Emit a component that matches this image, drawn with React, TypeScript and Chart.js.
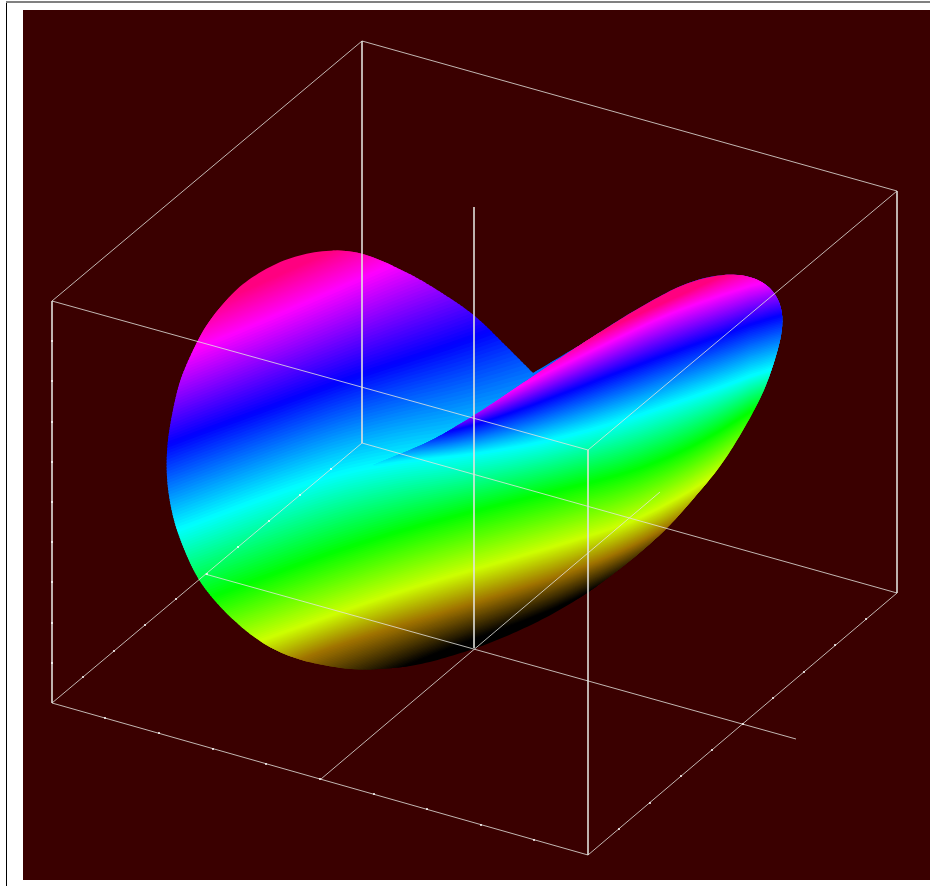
import React, { useEffect, useRef } from "react";
import { Chart, registerables } from "chart.js";

type P = [number, number];
type P3 = [number, number, number];

// Wire-frame of the plot box and its axes
const boxTop: P[] = [[52, 301], [588, 450], [897, 191], [362, 41], [52, 301]];
const boxBottom: P[] = [[52, 703], [588, 855], [897, 593], [362, 443], [52, 703]];
const boxPosts: P[][] = [
  [[52, 301], [52, 703]],
  [[588, 450], [588, 855]],
  [[897, 191], [897, 593]],
  [[362, 41], [362, 443]],
];
const axisLines: P[][] = [
  [[474, 207], [474, 648]],
  [[205, 574], [796, 739]],
  [[321, 779], [660, 492]],
];
const tickDots: P[] = [
  [83, 677], [114, 651], [145, 625], [176, 599], [207, 574], [238, 547], [269, 521], [300, 495], [331, 469],
  [105, 718], [159, 733], [213, 749], [266, 764], [320, 779], [374, 794], [427, 809], [481, 825], [534, 840],
  [619, 829], [650, 803], [681, 776], [712, 750], [743, 724], [773, 698], [804, 672], [835, 645], [866, 619],
  [52, 341], [52, 381], [52, 422], [52, 462], [52, 502], [52, 542], [52, 582], [52, 623], [52, 663],
];

// Surface silhouette
const surfaceOutline: P[] = [
  [533, 373], [473, 313], [417, 277], [363, 252], [327, 249], [283, 259], [240, 284], [205, 325], [179, 380],
  [167, 440], [166, 480], [174, 525], [197, 580], [227, 615], [263, 645], [300, 661], [357, 671], [417, 666],
  [475, 649], [510, 635], [550, 616], [588, 593], [633, 559], [668, 528], [687, 506], [719, 469], [743, 431],
  [766, 388], [781, 340], [785, 317], [778, 292], [762, 279], [740, 273], [713, 275], [680, 285], [630, 313], [580, 345],
];
// Front fold of the surface (right-hand lobe)
const foldOutline: P[] = [
  [373, 465], [380, 462], [430, 442], [467, 420], [480, 412], [535, 375], [580, 345], [630, 313], [680, 285],
  [713, 275], [740, 273], [762, 279], [778, 292], [785, 317], [781, 340], [766, 388], [743, 431], [719, 469], [687, 506],
];

// Lines of equal colour
const backPink: P[] = [[150, 332], [283, 273], [333, 250], [470, 190], [800, 60]];
const backMagenta: P[] = [[150, 367], [193, 350], [283, 313], [363, 277], [470, 232], [800, 100]];
const backBlue: P[] = [[150, 451], [170, 443], [283, 403], [363, 373], [450, 347], [560, 305], [800, 220]];
const cyanLine: P[] = [[150, 540], [187, 527], [283, 490], [373, 463], [480, 455], [590, 432], [763, 373], [800, 355]];
const greenLine: P[] = [[150, 620], [283, 570], [367, 540], [477, 510], [560, 490], [667, 463], [730, 425], [800, 380]];
const yellowLine: P[] = [[150, 680], [283, 633], [393, 593], [483, 567], [550, 548], [663, 513], [720, 470], [800, 420]];
const amberLine: P[] = [[150, 730], [283, 665], [350, 640], [393, 628], [477, 602], [550, 579], [600, 563], [663, 532], [720, 495], [800, 445]];
const blackLine: P[] = [[150, 780], [350, 690], [417, 660], [477, 637], [517, 625], [577, 600], [640, 565], [720, 520], [800, 470]];
const foldPink: P[] = [[150, 520], [547, 356], [663, 303], [713, 280], [800, 240]];
const foldMagenta: P[] = [[150, 560], [440, 425], [480, 406], [547, 373], [613, 340], [697, 300], [760, 285], [800, 270]];
const foldBlue: P[] = [[150, 430], [373, 440], [420, 440], [480, 425], [580, 387], [650, 360], [773, 317], [800, 305]];

const pink: P3 = [255, 0, 128];
const magenta: P3 = [255, 0, 255];
const blue: P3 = [0, 0, 255];
const cyan: P3 = [0, 255, 255];
const green: P3 = [0, 255, 0];
const yellow: P3 = [205, 255, 0];
const amber: P3 = [160, 115, 0];
const black: P3 = [0, 0, 0];

const backStops: [P[], P3][] = [
  [backPink, pink], [backMagenta, magenta], [backBlue, blue], [cyanLine, cyan],
  [greenLine, green], [yellowLine, yellow], [amberLine, amber], [blackLine, black],
];
const foldStops: [P[], P3][] = [
  [foldPink, pink], [foldMagenta, magenta], [foldBlue, blue], [cyanLine, cyan],
];

const bgColour = "#3a0000";
const wireColour = "rgba(228,228,222,0.8)";
const SUB = 30;
const XS: number[] = [];
for (let x = 150; x <= 800; x += 10) XS.push(x);

const rawY = (l: P[], x: number) => {
  for (let i = 0; i < l.length - 1; i++) {
    if (x <= l[i + 1][0]) {
      const t = (x - l[i][0]) / (l[i + 1][0] - l[i][0]);
      return l[i][1] + t * (l[i + 1][1] - l[i][1]);
    }
  }
  return l[l.length - 1][1];
};
// the colour lines are gently curved, so their read-off corners are rounded
const yAt = (l: P[], x: number) =>
  (rawY(l, x - 50) + rawY(l, x - 25) + rawY(l, x) + rawY(l, x + 25) + rawY(l, x + 50)) / 5;
const xy = (l: P[]) => l.map(([x, y]) => ({ x, y }));

const polygonDataset = (pts: { x: number; y: number }[], colour: string, clipTo?: P[]) => ({
  data: pts,
  showLine: true,
  fill: "shape",
  backgroundColor: colour,
  borderWidth: 0,
  pointRadius: 0,
  clipTo,
});

const surfaceDatasets = (stops: [P[], P3][], clipTo: P[], closeBottom: boolean) => {
  const out: any[] = [];
  const first = stops[0];
  const top = XS.map((x) => ({ x, y: 0 }));
  out.push(polygonDataset([...top, ...XS.map((x) => ({ x, y: yAt(first[0], x) + 1 })).reverse()],
    `rgb(${first[1].join(",")})`, clipTo));
  for (let s = 0; s < stops.length - 1; s++) {
    const [la, ca] = stops[s];
    const [lb, cb] = stops[s + 1];
    for (let k = 0; k < SUB; k++) {
      const t0 = k / SUB;
      const t1 = (k + 1) / SUB;
      const tc = (k + 0.5) / SUB;
      const c = ca.map((v, i) => Math.round(v + (cb[i] - v) * tc));
      const up = XS.map((x) => ({ x, y: yAt(la, x) * (1 - t0) + yAt(lb, x) * t0 }));
      const lo = XS.map((x) => ({ x, y: yAt(la, x) * (1 - t1) + yAt(lb, x) * t1 + 1.5 })).reverse();
      out.push(polygonDataset([...up, ...lo], `rgb(${c.join(",")})`, clipTo));
    }
  }
  if (closeBottom) {
    const last = stops[stops.length - 1];
    out.push(polygonDataset([...XS.map((x) => ({ x, y: yAt(last[0], x) })), { x: 800, y: 886 }, { x: 150, y: 886 }],
      `rgb(${last[1].join(",")})`, clipTo));
  }
  return out;
};

const wire = (l: P[]) => ({
  data: xy(l),
  showLine: true,
  fill: false,
  borderColor: wireColour,
  borderWidth: 1,
  pointRadius: 0,
});

// Evens out the read-off edge: resample every 4px, then a short moving average (both ends stay put)
const smoothEdge = (pts: number[][]) => {
  const sampled: number[][] = [pts[0]];
  let carry = 0;
  for (let i = 0; i < pts.length - 1; i++) {
    const [ax, ay] = pts[i];
    const [bx, by] = pts[i + 1];
    const len = Math.hypot(bx - ax, by - ay);
    let d = 4 - carry;
    while (d < len) {
      sampled.push([ax + ((bx - ax) * d) / len, ay + ((by - ay) * d) / len]);
      d += 4;
    }
    carry = len - (d - 4);
  }
  sampled.push(pts[pts.length - 1]);
  const n = sampled.length;
  let cur = sampled;
  for (let pass = 0; pass < 2; pass++) {
    cur = cur.map((p, i) => {
      const w = Math.min(4, i, n - 1 - i);
      let sx = 0;
      let sy = 0;
      for (let j = -w; j <= w; j++) {
        sx += cur[i + j][0];
        sy += cur[i + j][1];
      }
      return [sx / (2 * w + 1), sy / (2 * w + 1)];
    });
  }
  return cur;
};

const clipPlugin = {
  id: "surfaceClip",
  beforeDatasetDraw(chart: any, args: any) {
    const shape = chart.data.datasets[args.index].clipTo as P[] | undefined;
    if (!shape) return;
    const { ctx, scales } = chart;
    const pts = smoothEdge(shape.map(([x, y]) => [scales.x.getPixelForValue(x), scales.y.getPixelForValue(y)]));
    ctx.save();
    ctx.beginPath();
    pts.forEach(([x, y], i) => (i ? ctx.lineTo(x, y) : ctx.moveTo(x, y)));
    ctx.closePath();
    ctx.clip();
  },
  afterDatasetDraw(chart: any, args: any) {
    if (chart.data.datasets[args.index].clipTo) chart.ctx.restore();
  },
};
// registered ahead of the filler so that fills are clipped too
Chart.register(clipPlugin);
Chart.register(...registerables);

export default function App() {
  const ref = useRef<HTMLCanvasElement>(null);
  useEffect(() => {
    const paintOrder: any[] = [
      polygonDataset(xy([[23, 10], [930, 10], [930, 880], [23, 880]]), bgColour),
      { ...wire([[6.5, 1], [6.5, 886]]), borderColor: "#000000" },
      { ...wire([[6, 2], [930, 2]]), borderColor: "#808080", borderWidth: 2 },
      ...surfaceDatasets(backStops, surfaceOutline, true),
      ...surfaceDatasets(foldStops, foldOutline, false),
      wire(boxTop),
      wire(boxBottom),
      ...boxPosts.map(wire),
      ...axisLines.map(wire),
      {
        data: xy(tickDots),
        showLine: false,
        pointRadius: 1,
        pointBorderWidth: 0,
        pointBackgroundColor: "#ffffff",
      },
    ];
    const chart = new Chart(ref.current!, {
      type: "scatter",
      data: { datasets: paintOrder.reverse() },
      options: {
        animation: false,
        responsive: false,
        events: [],
        layout: { padding: 0, autoPadding: false },
        plugins: { legend: { display: false }, tooltip: { enabled: false } },
        scales: {
          x: { type: "linear", display: false, min: 0, max: 930 },
          y: { type: "linear", display: false, min: 0, max: 886, reverse: true },
        },
      },
    } as any);
    return () => chart.destroy();
  }, []);
  return (
    <canvas
      ref={ref}
      width={930}
      height={886}
      style={{ position: "absolute", left: 0, top: 0, width: 930, height: 886, display: "block" }}
    />
  );
}
